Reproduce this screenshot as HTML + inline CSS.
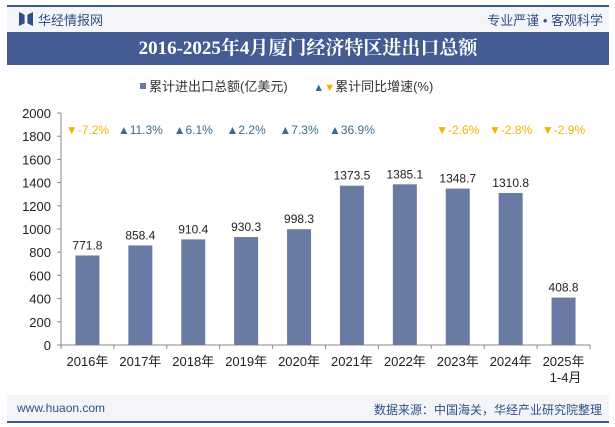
<!DOCTYPE html>
<html><head><meta charset="utf-8"><style>
body{margin:0;width:615px;height:427px;background:#fff;font-family:"Liberation Sans","Noto Sans CJK SC",sans-serif;overflow:hidden;position:relative}
.abs{position:absolute}
</style></head><body>
<div class="abs" style="left:7px;top:5px;width:602px;height:2px;background:#3d5a8f"></div>
<div class="abs" style="left:7px;top:7px;width:602px;height:30px;background:#f3f5f9"></div>
<div class="abs" style="left:19px;top:12px;width:14px;height:14px;background:#2f4f86;clip-path:polygon(0 0,40% 20%,40% 80%,0 100%,0 0,100% 0,100% 100%,60% 80%,60% 20%,100% 0)"></div>
<div class="abs" style="left:38px;top:10px;font-size:13px;color:#2f4f86">华经情报网</div>
<div class="abs" style="right:12px;top:10px;font-size:13px;color:#2f4f86">专业严谨 • 客观科学</div>
<div class="abs" style="left:7px;top:32px;width:602px;height:33px;background:#445c92;color:#fff;font-family:'Liberation Serif','Noto Serif CJK SC',serif;font-weight:bold;font-size:19px;line-height:33px;text-align:center">2016-2025年4月厦门经济特区进出口总额</div>
<div class="abs" style="left:140px;top:76px;font-size:13px;color:#333">
<span><span style="display:inline-block;width:6px;height:6px;background:#6a7ba3;margin-right:3px;vertical-align:2px"></span>累计进出口总额(亿美元)</span>
<span style="margin-left:22px"><span style="color:#3a6d8c;font-size:11px">▲</span><span style="color:#f5b300;font-size:11px">▼</span>累计同比增速(%)</span>
</div>
<svg class="abs" style="left:0;top:0" width="615" height="427" id="chart"></svg>
<div class="abs" style="left:7px;top:395px;width:602px;height:27px;background:#f3f5f9"></div>
<div class="abs" style="left:17px;top:401px;font-size:12px;color:#2f4f86">www.huaon.com</div>
<div class="abs" style="right:13px;top:401px;font-size:12px;color:#2f4f86">数据来源：中国海关，华经产业研究院整理</div>
<div class="abs" style="left:7px;top:421px;width:602px;height:2px;background:#3d5a8f"></div>
<script>
const categories=["2016年","2017年","2018年","2019年","2020年","2021年","2022年","2023年","2024年","2025年"];
const totals=[771.8,858.4,910.4,930.3,998.3,1373.5,1385.1,1348.7,1310.8,408.8];
const growth=[-7.2,11.3,6.1,2.2,7.3,36.9,null,-2.6,-2.8,-2.9];
const yTicks=[0,200,400,600,800,1000,1200,1400,1600,1800,2000];
const svg=document.getElementById('chart');const NS='http://www.w3.org/2000/svg';
const x0=61,x1=590,yb=345,yt=113,ymax=2000;
const slot=(x1-x0)/categories.length;
const xc=i=>x0+slot*(i+0.5);
const y=v=>yb-(v/ymax)*(yb-yt);
function mk(t,a,txt){const e=document.createElementNS(NS,t);for(const k in a)e.setAttribute(k,a[k]);if(txt!=null)e.textContent=txt;svg.appendChild(e);return e;}
let ax=mk('line',{x1:x0,y1:yt,x2:x0,y2:yb,stroke:'#888'});

let bx=mk('line',{x1:x0,y1:yb,x2:x1,y2:yb,stroke:'#888'});

yTicks.forEach(v=>{
 let t=mk('line',{x1:x0-4,y1:y(v),x2:x0,y2:y(v),stroke:'#888'});
 
 let l=mk('text',{x:x0-10,y:y(v)+5,'text-anchor':'end','font-size':13,fill:'#222'},v);
 
});
for(let i=0;i<=categories.length;i++){let t=mk('line',{x1:x0+slot*i,y1:yb,x2:x0+slot*i,y2:yb+4,stroke:'#888'});
 }
categories.forEach((c,i)=>{
 const v=totals[i];
 let b=mk('rect',{x:xc(i)-12,y:y(v),width:24,height:yb-y(v),fill:'#6a7ba3'});
 
 let vl=mk('text',{x:xc(i),y:y(v)-6,'text-anchor':'middle','font-size':12,fill:'#222'},v.toFixed(1));
 
 let xl=mk('text',{x:xc(i),y:yb+21,'text-anchor':'middle','font-size':13,fill:'#222'},c);
 
 const g=growth[i];
 if(g!==null){const up=g>=0;
  let gl=mk('text',{x:xc(i),y:134,'text-anchor':'middle','font-size':12,fill:up?'#3a6d8c':'#f5b300'},(up?'▲':'▼')+g.toFixed(1)+'%');
  }
});
let sub=mk('text',{x:xc(9)+2,y:yb+37,'text-anchor':'middle','font-size':13,fill:'#222'},'1-4月');

</script>
</body></html>
